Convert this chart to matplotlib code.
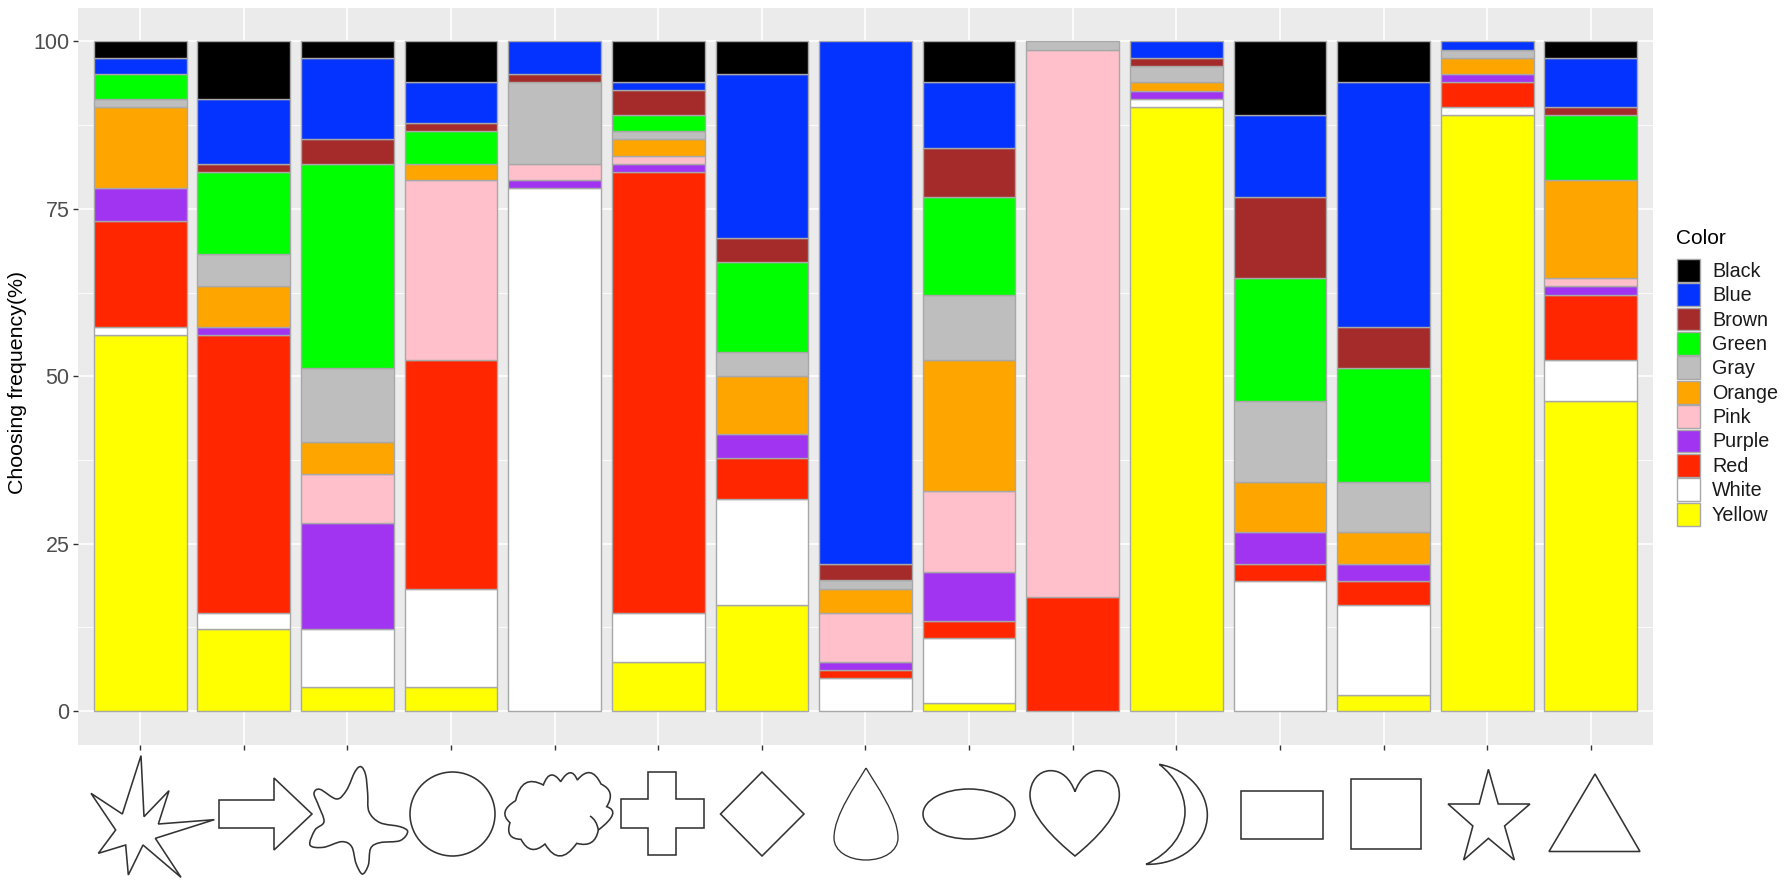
import numpy as np
import matplotlib
matplotlib.use("Agg")
import matplotlib.pyplot as plt
from matplotlib.path import Path
from matplotlib.patches import PathPatch, Ellipse, Polygon, Rectangle

plt.rcParams['font.family'] = ['Liberation Sans', 'DejaVu Sans']

W, H = 1784, 885

shapes = ['burst', 'arrow', 'blob', 'circle', 'cloud', 'cross', 'diamond', 'drop',
          'ellipse', 'heart', 'moon', 'rectangle', 'square', 'star', 'triangle']

# percentages, bottom of the stack first
yellow = [56.10, 12.20, 3.66, 3.66, 0, 7.32, 15.85, 0, 1.22, 0, 90.24, 0, 2.44, 89.02, 46.34]
white = [1.22, 2.44, 8.54, 14.63, 78.05, 7.32, 15.85, 4.88, 9.76, 0, 1.22, 19.51, 13.41, 1.22, 6.10]
red = [15.85, 41.46, 0, 34.15, 0, 65.85, 6.10, 1.22, 2.44, 17.07, 0, 2.44, 3.66, 3.66, 9.76]
purple = [4.88, 1.22, 15.85, 0, 1.22, 1.22, 3.66, 1.22, 7.32, 0, 1.22, 4.88, 2.44, 1.22, 1.22]
pink = [0, 0, 7.32, 26.83, 2.44, 1.22, 0, 7.32, 12.20, 81.71, 0, 0, 0, 0, 1.22]
orange = [12.20, 6.10, 4.88, 2.44, 0, 2.44, 8.54, 3.66, 19.51, 0, 1.22, 7.32, 4.88, 2.44, 14.63]
gray = [1.22, 4.88, 10.98, 0, 12.20, 1.22, 3.66, 1.22, 9.76, 1.22, 2.44, 12.20, 7.32, 1.22, 0]
green = [3.66, 12.20, 30.49, 4.88, 0, 2.44, 13.41, 0, 14.63, 0, 0, 18.29, 17.07, 0, 9.76]
brown = [0, 1.22, 3.66, 1.22, 1.22, 3.66, 3.66, 2.44, 7.32, 0, 1.22, 12.20, 6.10, 0, 1.22]
blue = [2.44, 9.76, 12.20, 6.10, 4.88, 1.22, 24.39, 78.05, 9.76, 0, 2.44, 12.20, 36.59, 1.22, 7.32]
black = [2.44, 8.54, 2.44, 6.10, 0, 6.10, 4.88, 0, 6.10, 0, 0, 10.98, 6.10, 0, 2.44]

series = [yellow, white, red, purple, pink, orange, gray, green, brown, blue, black]
names = ['Yellow', 'White', 'Red', 'Purple', 'Pink', 'Orange', 'Gray', 'Green', 'Brown', 'Blue', 'Black']
colors = ['#FFFF00', '#FFFFFF', '#FF2600', '#A034F0', '#FFC0CB', '#FFA500', '#BEBEBE',
          '#00FF00', '#A52A2A', '#0433FF', '#000000']
EDGE = '#A8A8A8'

fig = plt.figure(figsize=(W / 100, H / 100), dpi=100)

# panel position in pixels
left, right, top, bottom = 78, 1653, 8, 745
ax = fig.add_axes([left / W, 1 - bottom / H, (right - left) / W, (bottom - top) / H])
ax.set_facecolor('#EBEBEB')
ax.set_axisbelow(True)

x = np.arange(1, len(shapes) + 1)
base = np.zeros(len(shapes))
for vals, name, col in zip(series, names, colors):
    vals = np.array(vals, dtype=float)
    keep = vals > 0
    ax.bar(x[keep], vals[keep], 0.895, bottom=base[keep], color=col, edgecolor=EDGE,
           linewidth=1.0, label=name)
    base += vals

ax.set_xlim(0.4, 15.6)
ax.set_ylim(-5.05, 105)
ax.set_xticks(x)
ax.set_xticklabels([])
ax.set_yticks([0, 25, 50, 75, 100])
ax.set_yticks([12.5, 37.5, 62.5, 87.5], minor=True)
ax.grid(True, which='major', color='white', linewidth=1.2)
ax.grid(True, which='minor', axis='y', color='white', linewidth=0.6)
ax.tick_params(axis='y', which='minor', length=0)
ax.tick_params(axis='both', which='major', color='#333333', length=3.5, width=1.0)
ax.tick_params(axis='y', labelsize=15.5, labelcolor='#4D4D4D', pad=2.5)
for s in ax.spines.values():
    s.set_visible(False)
fig.text(18 / W, 1 - 382 / H, 'Choosing frequency(%)', rotation=90, fontsize=15.4,
         ha='center', va='center')

# overlay in pixel coordinates, for the icons and legend
ov = fig.add_axes([0, 0, 1, 1], facecolor='none')
ov.set_xlim(0, W)
ov.set_ylim(H, 0)
ov.axis('off')

LINE = dict(fill=False, edgecolor='#333333', linewidth=1.15, joinstyle='miter')


def z3(pts, x0, y0):
    return [(x0 + a / 3, y0 + b / 3) for a, b in pts]


def bez(points):
    # first point, then groups of three bezier points
    codes = [Path.MOVETO] + [Path.CURVE4] * (len(points) - 1)
    return Path(points, codes)


def smooth_closed(pts):
    # catmull-rom through the points
    p = np.array(pts, dtype=float)
    n = len(p)
    verts = [p[0]]
    for i in range(n):
        p0, p1, p2, p3 = p[i - 1], p[i], p[(i + 1) % n], p[(i + 2) % n]
        verts += [p1 + (p2 - p0) / 6, p2 - (p3 - p1) / 6, p2]
    return bez(verts)


# burst
ov.add_patch(Polygon(z3([(183, 17), (192, 200), (267, 122), (235, 222), (403, 209), (226, 265),
                         (303, 382), (189, 285), (145, 375), (137, 285), (55, 310), (107, 240),
                         (33, 130), (127, 192)], 80, 750), closed=True, **LINE))
# arrow
ov.add_patch(Polygon([(219, 800), (274, 800), (274, 778), (312, 814), (274, 850), (274, 828), (219, 828)],
                     closed=True, **LINE))
# blob
ov.add_patch(PathPatch(smooth_closed(z3([(183, 50), (197, 75), (203, 130), (207, 185), (240, 218), (300, 230),
                                         (323, 245), (300, 272), (240, 278), (212, 295), (205, 345), (187, 372),
                                         (168, 340), (155, 290), (125, 275), (70, 292), (30, 285), (45, 240),
                                         (72, 215), (55, 165), (42, 130), (60, 118), (110, 147), (140, 120),
                                         (165, 65)], 300, 750)), **LINE))
# circle
ov.add_patch(Ellipse((452.5, 814), 85, 84, **LINE))
# cloud, cusp points with quadratic control points
cloud = [((62, 152), None), ((145, 105), (80, 70)), ((197, 95), (165, 50)), ((247, 90), (228, 44)),
         ((318, 102), (288, 40)), ((335, 170), (364, 124)), ((310, 240), (382, 185)),
         ((245, 280), (300, 295)), ((150, 282), (193, 355)), ((78, 268), (106, 321)),
         ((45, 218), (29, 267)), ((62, 152), (7, 185))]
cv = [cloud[0][0]]
cc = [Path.MOVETO]
for end, ctrl in cloud[1:]:
    cv += [ctrl, end]
    cc += [Path.CURVE3, Path.CURVE3]
ov.add_patch(PathPatch(Path(z3(cv, 495, 750), cc), **LINE))
ov.add_patch(PathPatch(Path(z3([(285, 198), (305, 210), (310, 240)], 495, 750),
                            [Path.MOVETO, Path.CURVE3, Path.CURVE3]), **LINE))
# cross
ov.add_patch(Polygon([(647.5, 772), (676, 772), (676, 799), (704, 799), (704, 828), (676, 828), (676, 855),
                      (647.5, 855), (647.5, 828), (621, 828), (621, 799), (647.5, 799)], closed=True, **LINE))
# diamond
ov.add_patch(Polygon([(762, 772), (804, 814), (762, 856), (720.5, 814)], closed=True, **LINE))
# drop
ov.add_patch(PathPatch(bez([(866, 768), (856, 785), (834, 815), (834, 838), (834, 851), (848, 860), (866, 860),
                            (884, 860), (898, 851), (898, 838), (898, 815), (876, 785), (866, 768)]),
                       **{**LINE, 'linewidth': 0.95}))
# ellipse
ov.add_patch(Ellipse((969, 814), 92, 50, **LINE))
# heart
ov.add_patch(PathPatch(bez(z3([(165, 110), (150, 70), (125, 47), (92, 47), (55, 47), (30, 80), (30, 120),
                               (30, 180), (100, 250), (165, 303), (230, 250), (298, 180), (298, 120),
                               (298, 80), (275, 47), (235, 47), (205, 47), (180, 70), (165, 110)],
                              1020, 755)), **LINE))
# moon
ov.add_patch(PathPatch(bez(z3([(418, 28), (510, 45), (562, 115), (562, 180), (562, 265), (480, 330), (378, 328),
                               (450, 295), (495, 235), (495, 170), (495, 115), (465, 65), (418, 28)],
                              1020, 755)), **LINE))
# rectangle, square
ov.add_patch(Rectangle((1240.5, 790.5), 82.5, 48, **LINE))
ov.add_patch(Rectangle((1351, 779), 70, 70, **LINE))
# star
ov.add_patch(Polygon([(880 + a / 1.734, 720 + b / 3) for a, b in
                      [(1055, 148), (1072, 252), (1127, 252), (1083, 318), (1100, 420), (1055, 355),
                       (1012, 420), (1028, 318), (985, 252), (1039, 252)]], closed=True, **LINE))
# triangle
ov.add_patch(Polygon([(1595, 774), (1640, 851.5), (1549, 851.5)], closed=True, **LINE))

# legend, black on top
ov.text(1676, 238, 'Color', fontsize=15, ha='left', va='center', color='black')
key_top, key_h = 258, 24.4
for i, (name, col) in enumerate(zip(names[::-1], colors[::-1])):
    y = key_top + i * key_h
    ov.add_patch(Rectangle((1677, y + 0.8), 23, key_h - 1.6, facecolor=col, edgecolor=EDGE, linewidth=1.0))
    ov.text(1712, y + key_h / 2 + 1, name, fontsize=14.2, ha='left', va='center', color='#1A1A1A')

fig.savefig('out.png', dpi=100)
